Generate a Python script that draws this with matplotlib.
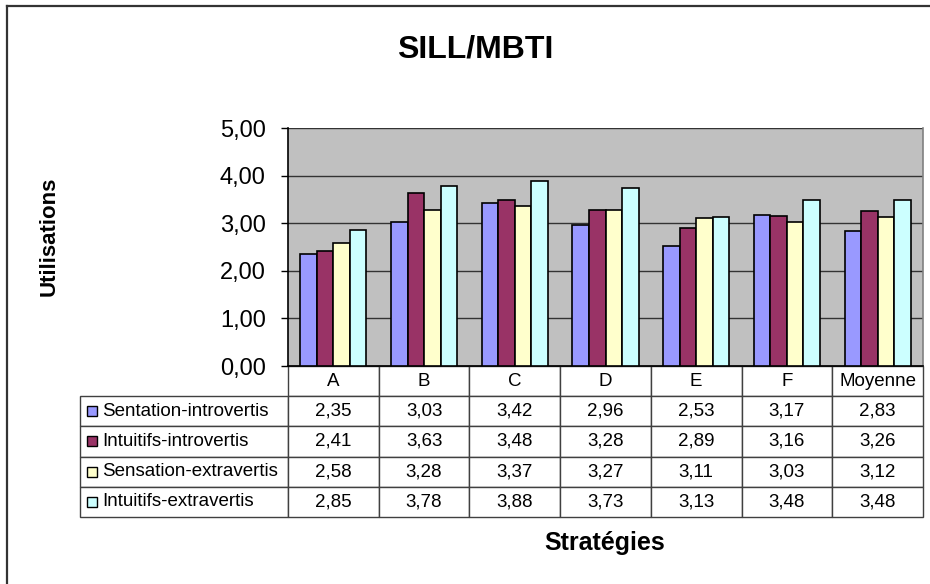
import numpy as np
import matplotlib
matplotlib.use("Agg")
import matplotlib.pyplot as plt
from matplotlib.patches import Rectangle
from matplotlib.lines import Line2D

plt.rcParams['font.family'] = ['Liberation Sans', 'DejaVu Sans']

# donnees
strategies = ['A', 'B', 'C', 'D', 'E', 'F', 'Moyenne']
series = ['Sentation-introvertis', 'Intuitifs-introvertis',
          'Sensation-extravertis', 'Intuitifs-extravertis']
sent_intro = [2.35, 3.03, 3.42, 2.96, 2.53, 3.17, 2.83]
intu_intro = [2.41, 3.63, 3.48, 3.28, 2.89, 3.16, 3.26]
sens_extra = [2.58, 3.28, 3.37, 3.27, 3.11, 3.03, 3.12]
intu_extra = [2.85, 3.78, 3.88, 3.73, 3.13, 3.48, 3.48]
valeurs = [sent_intro, intu_intro, sens_extra, intu_extra]
couleurs = ['#9999FF', '#993366', '#FFFFCC', '#CCFFFF']


def fmt(v):
    return ('%.2f' % v).replace('.', ',')


W, H = 930, 584
fig = plt.figure(figsize=(W / 100, H / 100), dpi=100)

# cadre (seulement haut et gauche visibles)
fig.add_artist(Line2D([7 / W, 7 / W], [0, 1 - 6 / H], transform=fig.transFigure,
                      color='#333333', lw=1.6))
fig.add_artist(Line2D([7 / W, 1], [1 - 6 / H, 1 - 6 / H], transform=fig.transFigure,
                      color='#333333', lw=1.6))

x0, x1, ytop, ybot = 288, 923, 128, 366
ax = fig.add_axes([x0 / W, 1 - ybot / H, (x1 - x0) / W, (ybot - ytop) / H])
ax.set_facecolor('#C0C0C0')

n = len(strategies)
x = np.arange(n)
bw = 0.182
for j in range(4):
    ax.bar(x + (j - 1.5) * bw, valeurs[j], bw, color=couleurs[j],
           edgecolor='black', linewidth=1.2, zorder=3)

ax.set_xlim(-0.5, n - 0.5)
ax.set_ylim(0, 5)
ax.set_yticks(np.arange(0, 5.01, 1))
ax.set_yticklabels([fmt(v) for v in np.arange(0, 5.01, 1)], fontsize=17)
ax.tick_params(axis='y', length=5, width=1, pad=11, direction='out')
ax.set_xticks([])
ax.grid(axis='y', color='#333333', linewidth=1, zorder=1)
ax.spines['top'].set_visible(False)
ax.spines['right'].set_color('#808080')
ax.spines['right'].set_linewidth(1.2)
ax.spines['left'].set_linewidth(1.2)
ax.spines['bottom'].set_linewidth(1.2)

# tableau de donnees
ax_w = x1 - x0
ax_h = ybot - ytop
tx0 = (80 - x0) / ax_w
th = (517 - ybot) / ax_h
cell_text = [[series[j]] + [fmt(v) for v in valeurs[j]] for j in range(4)]
col_w = [208] + [ax_w / n] * n
tab = ax.table(cellText=cell_text, colLabels=[''] + strategies,
               colWidths=[c / sum(col_w) for c in col_w],
               cellLoc='center', bbox=[tx0, -th, 1 - tx0, th])
tab.auto_set_font_size(False)
for (r, c), cell in tab.get_celld().items():
    cell.set_edgecolor('#404040')
    cell.set_linewidth(1)
    cell.get_text().set_fontsize(13.5)
    if r == 0 and c == 0:
        cell.visible_edges = ''
    if c == 0 and r > 0:
        cell.get_text().set_ha('left')
        cell._loc = 'left'
        cell.PAD = 22 / 208

rh = th / 5
for j in range(4):
    yc = -(j + 1.5) * rh
    sq = 10
    ax.add_patch(Rectangle(((87 - x0) / ax_w, yc - sq / 2 / ax_h), sq / ax_w, sq / ax_h,
                           transform=ax.transAxes, facecolor=couleurs[j],
                           edgecolor='black', linewidth=1, clip_on=False, zorder=5))

fig.text(475 / W, 1 - 49 / H, 'SILL/MBTI', fontsize=23, fontweight='bold',
         ha='center', va='center')
fig.text(49 / W, 1 - 236 / H, 'Utilisations', fontsize=16, fontweight='bold',
         ha='center', va='center', rotation=90)
fig.text(605 / W, 1 - 543 / H, 'Stratégies', fontsize=18, fontweight='bold',
         ha='center', va='center')

fig.savefig('out.png', dpi=100)
